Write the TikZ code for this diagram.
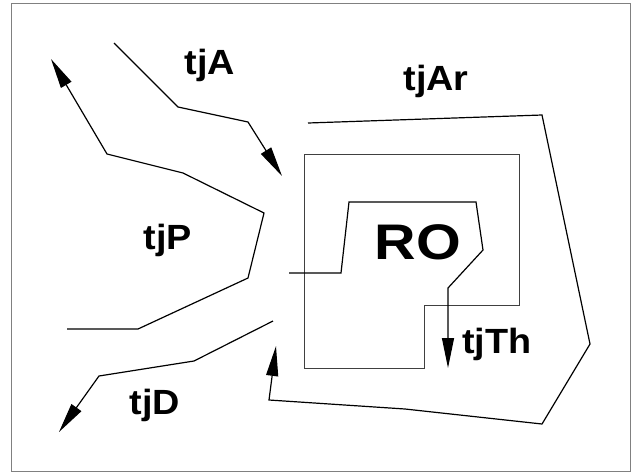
\documentclass[tikz,border=0pt]{standalone}
\usepackage{fontspec}
\setmainfont{Liberation Sans}
\usetikzlibrary{arrows.meta, positioning}

\begin{document}
\begin{tikzpicture}[x=1pt, y=-1pt,
    lbl/.style={font=\bfseries\fontsize{35}{40}\selectfont, inner sep=0pt, anchor=base},
    track/.style={line width=1.2pt, line join=miter},
    tip/.style={-{Triangle[length=30pt,width=12pt]}},
    region/.style={line width=0.9pt, draw=black!75}]
  \useasboundingbox (0,0) rectangle (640,472);
  \draw[gray, line width=1pt] (11,3) rectangle (630,471);

  % labels
  \node[lbl] (tjA) at (210,74) {\scalebox{1.08}[1]{tjA}};
  \node[lbl] (tjAr) at (436,90) {\scalebox{1.08}[1]{tjAr}};
  \node[lbl] (tjP) at (168,249) {\scalebox{1.08}[1]{tjP}};
  \node[lbl] (tjD) at (155,414) {\scalebox{1.08}[1]{tjD}};
  \node[lbl] (tjTh) at (497,353) {\scalebox{1.08}[1]{tjTh}};
  \node[lbl, font=\bfseries\fontsize{50}{55}\selectfont] (RO) at (418,259) {\scalebox{1.15}[1]{RO}};

  % region
  \draw[region] (304,154) -- (519,154) -- (519,305) -- (424,305) -- (424,368) -- (304,368) -- cycle;

  % tracks
  \draw[track, tip] (114,43) -- (178,107) -- (248,122) -- (282,176);
  \draw[track, tip] (67,329) -- (138,329) -- (248,278) -- (264,213) -- (183,173) -- (107,154) -- (51,59);
  \draw[track, tip] (273,321) -- (194,361) -- (99,376) -- (59,432);
  \draw[track, tip] (308,123) -- (542,115) -- (590,344) -- (542,424) -- (405,409) -- (269,400) -- (276,346);
  \draw[track, tip] (289,273) -- (341,273) -- (349,202) -- (476,202) -- (483,250) -- (448,288) -- (448,368);
\end{tikzpicture}
\end{document}
